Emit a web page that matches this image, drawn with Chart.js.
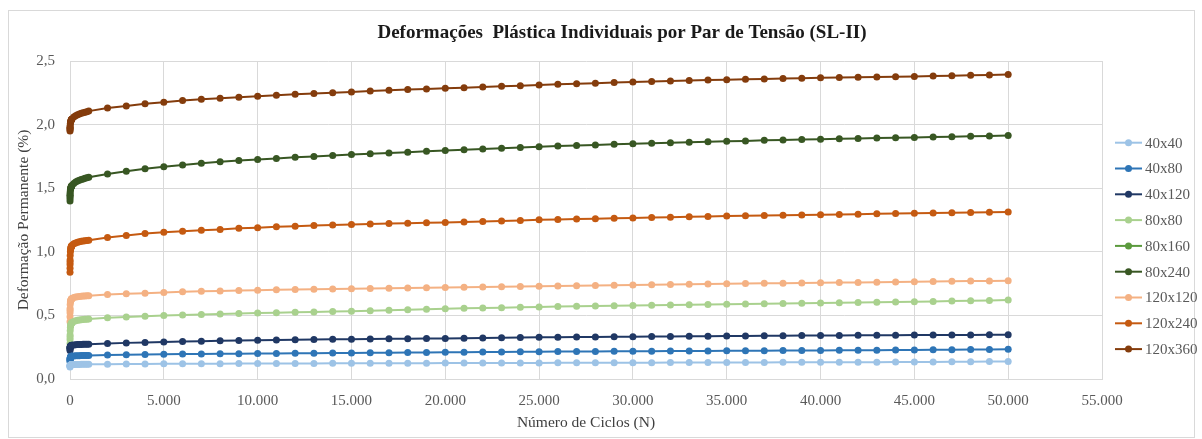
<!DOCTYPE html>
<html>
<head>
<meta charset="utf-8">
<script src="https://cdn.jsdelivr.net/npm/chart.js@4"></script>
<style>
html,body{margin:0;padding:0;background:#fff;}
canvas{display:block;}
</style>
</head>
<body>
<canvas id="c" width="1202" height="439"></canvas>
<script>
const chartTitle = "Deformações  Plástica Individuais por Par de Tensão (SL-II)";
const xTitle = "Número de Ciclos (N)";
const yTitle = "Deformação Permanente (%)";

const cycles = [1,2,3,4,5,10,20,30,40,50,60,70,80,90,100,200,300,400,500,600,700,800,900,1000,
  2000,3000,4000,5000,6000,7000,8000,9000,10000,11000,12000,13000,14000,15000,16000,17000,18000,19000,20000,
  21000,22000,23000,24000,25000,26000,27000,28000,29000,30000,31000,32000,33000,34000,35000,36000,37000,38000,39000,40000,
  41000,42000,43000,44000,45000,46000,47000,48000,49000,50000];

const seriesLabels = ["40x40","40x80","40x120","80x80","80x160","80x240","120x120","120x240","120x360"];
const seriesColors = ["#9dc3e6","#2e75b6","#203864","#a9d18e","#5b9a3d","#385723","#f4b183","#c55a11","#843c0c"];

const s40x40 = [0.095,0.1,0.103,0.105,0.106,0.108,0.11,0.111,0.111,0.112,0.112,0.112,0.113,0.113,0.113,0.114,0.114,0.114,0.114,0.115,0.115,0.115,0.115,0.115,
  0.116,0.117,0.118,0.119,0.119,0.12,0.12,0.121,0.121,0.122,0.122,0.122,0.123,0.123,0.123,0.124,0.124,0.124,0.125,
  0.125,0.125,0.126,0.126,0.126,0.127,0.127,0.127,0.128,0.128,0.128,0.129,0.129,0.129,0.13,0.13,0.13,0.131,0.131,0.131,
  0.132,0.132,0.132,0.133,0.133,0.134,0.135,0.136,0.137,0.138];
const s40x80 = [0.135,0.145,0.152,0.157,0.16,0.166,0.171,0.174,0.175,0.176,0.177,0.178,0.178,0.179,0.179,0.181,0.182,0.183,0.183,0.184,0.184,0.184,0.185,0.185,
  0.189,0.191,0.193,0.195,0.196,0.197,0.198,0.199,0.2,0.201,0.202,0.203,0.204,0.205,0.206,0.207,0.208,0.209,0.21,
  0.211,0.212,0.213,0.214,0.215,0.216,0.217,0.217,0.218,0.219,0.219,0.22,0.221,0.221,0.222,0.223,0.223,0.224,0.225,0.225,
  0.226,0.227,0.227,0.228,0.228,0.229,0.23,0.231,0.232,0.233];
const s40x120 = [0.225,0.235,0.242,0.246,0.249,0.254,0.258,0.26,0.261,0.262,0.263,0.264,0.264,0.265,0.265,0.268,0.27,0.271,0.272,0.272,0.273,0.273,0.274,0.274,
  0.279,0.284,0.287,0.29,0.294,0.297,0.3,0.302,0.305,0.307,0.309,0.31,0.312,0.313,0.315,0.316,0.317,0.318,0.319,
  0.321,0.323,0.325,0.327,0.328,0.329,0.33,0.331,0.332,0.333,0.334,0.335,0.336,0.337,0.338,0.339,0.34,0.34,0.341,0.342,
  0.342,0.343,0.344,0.344,0.345,0.345,0.346,0.346,0.347,0.347];
const s80x80 = [0.245,0.28,0.31,0.33,0.345,0.38,0.405,0.418,0.425,0.43,0.434,0.437,0.44,0.442,0.444,0.452,0.457,0.461,0.464,0.466,0.468,0.469,0.47,0.471,
  0.482,0.488,0.494,0.499,0.504,0.508,0.511,0.514,0.518,0.521,0.524,0.527,0.53,0.533,0.537,0.541,0.545,0.549,0.553,
  0.556,0.559,0.561,0.564,0.566,0.569,0.571,0.573,0.576,0.578,0.58,0.582,0.584,0.586,0.588,0.59,0.592,0.594,0.595,0.597,
  0.599,0.601,0.603,0.605,0.608,0.61,0.613,0.616,0.618,0.621];
const s80x160 = [];
const s80x240 = [1.40,1.42,1.435,1.445,1.455,1.47,1.485,1.495,1.50,1.505,1.51,1.513,1.516,1.519,1.521,1.537,1.548,1.556,1.562,1.568,1.573,1.578,1.582,1.586,
  1.611,1.633,1.652,1.668,1.683,1.696,1.707,1.717,1.726,1.734,1.743,1.75,1.757,1.764,1.771,1.777,1.783,1.79,1.797,
  1.803,1.809,1.815,1.82,1.826,1.831,1.836,1.84,1.845,1.849,1.853,1.857,1.861,1.865,1.869,1.872,1.876,1.879,1.882,1.885,
  1.888,1.891,1.894,1.897,1.899,1.902,1.905,1.908,1.911,1.915];
const s120x120 = [0.45,0.49,0.52,0.54,0.555,0.585,0.605,0.613,0.618,0.622,0.625,0.627,0.629,0.631,0.633,0.64,0.644,0.647,0.649,0.651,0.652,0.653,0.654,0.655,
  0.664,0.67,0.675,0.68,0.685,0.689,0.692,0.695,0.698,0.701,0.704,0.706,0.708,0.71,0.712,0.714,0.716,0.717,0.719,
  0.721,0.723,0.725,0.727,0.729,0.731,0.733,0.735,0.737,0.739,0.741,0.743,0.745,0.747,0.749,0.75,0.752,0.753,0.755,0.756,
  0.758,0.759,0.761,0.763,0.765,0.766,0.768,0.77,0.771,0.773];
const s120x240 = [0.84,0.87,0.9,0.92,0.935,0.97,1.0,1.015,1.025,1.032,1.037,1.041,1.044,1.047,1.05,1.063,1.07,1.075,1.079,1.082,1.085,1.087,1.089,1.091,
  1.113,1.128,1.143,1.153,1.162,1.17,1.176,1.185,1.19,1.196,1.201,1.206,1.211,1.215,1.219,1.222,1.225,1.228,1.231,
  1.235,1.239,1.243,1.247,1.251,1.254,1.257,1.26,1.263,1.266,1.269,1.272,1.275,1.278,1.281,1.283,1.285,1.288,1.29,1.292,
  1.294,1.296,1.299,1.301,1.303,1.305,1.307,1.309,1.311,1.313];
const s120x360 = [1.95,1.96,1.97,1.975,1.98,1.995,2.01,2.02,2.025,2.03,2.035,2.038,2.04,2.043,2.045,2.06,2.07,2.077,2.083,2.089,2.094,2.098,2.102,2.106,
  2.13,2.147,2.163,2.176,2.19,2.2,2.207,2.215,2.223,2.231,2.238,2.244,2.251,2.257,2.264,2.27,2.275,2.28,2.285,
  2.29,2.296,2.301,2.306,2.311,2.317,2.321,2.326,2.33,2.334,2.338,2.342,2.346,2.35,2.353,2.356,2.359,2.362,2.365,2.368,
  2.37,2.372,2.375,2.377,2.379,2.382,2.385,2.388,2.39,2.393];

const seriesValues = [s40x40,s40x80,s40x120,s80x80,s80x160,s80x240,s120x120,s120x240,s120x360];

const xTicks = [0,5000,10000,15000,20000,25000,30000,35000,40000,45000,50000,55000];
const yTicks = [0,0.5,1.0,1.5,2.0,2.5];

const SERIF = "'Liberation Serif','Times New Roman',serif";

function fmtThousands(v){
  return String(Math.round(v)).replace(/\B(?=(\d{3})+(?!\d))/g, ".");
}

const datasets = seriesLabels.map((lab, i) => ({
  label: lab,
  data: seriesValues[i].map((y, k) => ({x: cycles[k], y: y})),
  borderColor: seriesColors[i],
  backgroundColor: seriesColors[i],
  pointBackgroundColor: seriesColors[i],
  pointBorderColor: seriesColors[i],
  pointRadius: 3.5,
  pointBorderWidth: 0,
  borderWidth: 2,
  tension: 0,
  clip: false
}));

const decorPlugin = {
  id: 'decor',
  beforeDraw(chart){
    const ctx = chart.ctx;
    ctx.save();
    ctx.fillStyle = '#ffffff';
    ctx.fillRect(0,0,chart.width,chart.height);
    ctx.strokeStyle = '#d9d9d9';
    ctx.lineWidth = 1;
    ctx.strokeRect(8.5, 10.5, 1186, 427);
    ctx.restore();
  },
  afterDraw(chart){
    const ctx = chart.ctx;
    ctx.save();
    // title
    ctx.fillStyle = '#1a1a1a';
    ctx.font = "bold 19px " + SERIF;
    ctx.textAlign = 'center';
    ctx.textBaseline = 'middle';
    ctx.fillText(chartTitle, 622, 33);
    // legend
    const ds = chart.data.datasets;
    const x0 = 1115, x1 = 1142, tx = 1145;
    ds.forEach((d, i) => {
      const y = 142.7 + i * 25.8;
      ctx.strokeStyle = d.borderColor;
      ctx.lineWidth = 2;
      ctx.beginPath();
      ctx.moveTo(x0, y);
      ctx.lineTo(x1, y);
      ctx.stroke();
      ctx.fillStyle = d.borderColor;
      ctx.beginPath();
      ctx.arc((x0 + x1) / 2, y, 3.5, 0, Math.PI * 2);
      ctx.fill();
      ctx.fillStyle = '#595959';
      ctx.font = "15px " + SERIF;
      ctx.textAlign = 'left';
      ctx.textBaseline = 'middle';
      ctx.fillText(d.label, tx, y + 1);
    });
    ctx.restore();
  }
};

new Chart(document.getElementById('c'), {
  type: 'line',
  data: { datasets },
  options: {
    responsive: false,
    animation: false,
    events: [],
    layout: { padding: { top: 61, right: 100, left: 0, bottom: 0 } },
    plugins: { legend: { display: false }, title: { display: false }, tooltip: { enabled: false } },
    scales: {
      x: {
        type: 'linear',
        min: 0, max: 55000,
        afterBuildTicks(scale){ scale.ticks = xTicks.map(v => ({value: v})); },
        afterFit(scale){ scale.height = 60; },
        grid: { color: '#d9d9d9', lineWidth: 1, drawTicks: false },
        border: { color: '#d9d9d9' },
        ticks: {
          padding: 13,
          color: '#595959',
          font: { family: SERIF, size: 15 },
          maxRotation: 0,
          autoSkip: false,
          callback: v => fmtThousands(v)
        },
        title: {
          display: true,
          text: xTitle,
          color: '#404040',
          font: { family: SERIF, size: 15.5 },
          padding: { top: 0, bottom: 7 }
        }
      },
      y: {
        type: 'linear',
        min: 0, max: 2.5,
        afterBuildTicks(scale){ scale.ticks = yTicks.map(v => ({value: v})); },
        afterFit(scale){ scale.width = 70; },
        grid: { color: '#d9d9d9', lineWidth: 1, drawTicks: false },
        border: { color: '#d9d9d9' },
        ticks: {
          padding: 15,
          color: '#595959',
          font: { family: SERIF, size: 15 },
          callback: v => Number(v).toFixed(1).replace('.', ',')
        },
        title: {
          display: true,
          text: yTitle,
          color: '#404040',
          font: { family: SERIF, size: 15.5 },
          padding: { top: 15, bottom: 0 }
        }
      }
    }
  },
  plugins: [decorPlugin]
});
</script>
</body>
</html>
